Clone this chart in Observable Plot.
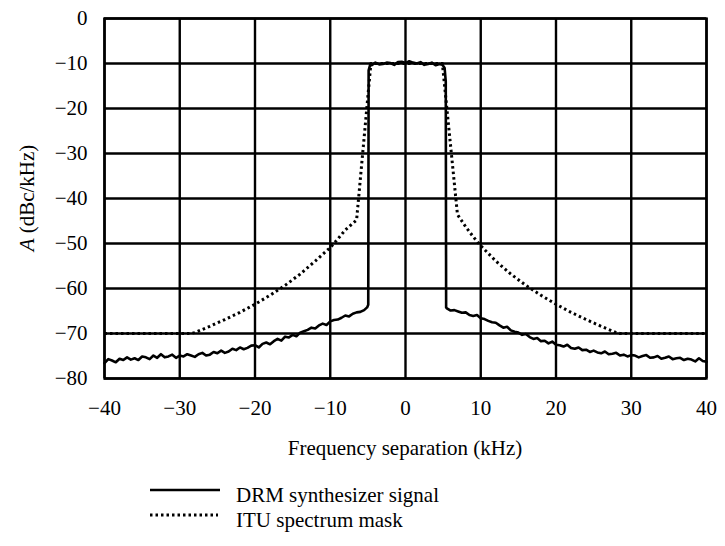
<!DOCTYPE html>
<html>
<head>
<meta charset="utf-8">
<script src="https://cdn.jsdelivr.net/npm/d3@7"></script>
<script src="https://cdn.jsdelivr.net/npm/@observablehq/plot@0.6"></script>
<style>
  html, body { margin: 0; padding: 0; background: white; }
  #wrap { position: relative; width: 725px; height: 546px; font-family: "Liberation Serif", "Times New Roman", serif; }
  #legend { position: absolute; left: 0; top: 465px; }
</style>
</head>
<body>
<div id="wrap"></div>
<script>
// Tick values
const xTicks = [-40, -30, -20, -10, 0, 10, 20, 30, 40];
const yTicks = [0, -10, -20, -30, -40, -50, -60, -70, -80];

// DRM synthesizer signal (kHz, dBc/kHz)
const sigF = [
  -40, -39.5, -39, -38.5, -38, -37.5, -37, -36.5, -36, -35.5, -35, -34.5, -34, -33.5, -33, -32.5, -32, -31.5, -31, -30.5,
  -30, -29.5, -29, -28.5, -28, -27.5, -27, -26.5, -26, -25.5, -25, -24.5, -24, -23.5, -23, -22.5, -22, -21.5, -21, -20.5,
  -20, -19.5, -19, -18.5, -18, -17.5, -17, -16.5, -16, -15.5, -15, -14.5, -14, -13.5, -13, -12.5, -12, -11.5, -11, -10.5,
  -10, -9.5, -9, -8.5, -8, -7.5, -7, -6.5, -6, -5.5, -5.1, -4.95, -4.9, -4.7,
  -4.5, -4, -3.5, -3, -2.5, -2, -1.5, -1, -0.5, 0, 0.5, 1, 1.5, 2, 2.5, 3, 3.5, 4, 4.5, 4.9, 5.2, 5.35, 5.4,
  5.5, 6, 6.5, 7, 7.5, 8, 8.5, 9, 9.5, 10, 10.5, 11, 11.5, 12, 12.5, 13, 13.5, 14, 14.5, 15, 15.5, 16, 16.5, 17, 17.5,
  18, 18.5, 19, 19.5, 20, 20.5, 21, 21.5, 22, 22.5, 23, 23.5, 24, 24.5, 25, 25.5, 26, 26.5, 27, 27.5, 28, 28.5, 29, 29.5,
  30, 30.5, 31, 31.5, 32, 32.5, 33, 33.5, 34, 34.5, 35, 35.5, 36, 36.5, 37, 37.5, 38, 38.5, 39, 39.5, 40
];
const sigA = [
  -76.6, -75.7, -76.0, -76.4, -75.6, -75.9, -75.3, -75.8, -75.5, -75.9, -75.1, -75.3, -75.7, -74.9, -75.4, -74.6, -75.3, -75.1, -74.7, -75.4,
  -74.9, -75.1, -74.6, -74.9, -75.2, -74.6, -74.3, -74.9, -74.7, -74.1, -74.4, -73.8, -74.3, -74.0, -73.4, -73.7, -73.1, -73.5, -73.2, -72.7,
  -72.6, -73.1, -72.3, -72.0, -72.4, -71.7, -71.2, -71.6, -70.7, -70.9, -70.3, -70.6, -69.8, -69.5, -69.2, -68.7, -68.9, -68.2, -67.8, -68.1,
  -67.3, -67.0, -66.9, -66.5, -66.0, -66.2, -65.6, -65.3, -65.2, -64.8, -64.2, -63.6, -11.5, -10.3,
  -10.4, -9.8, -10.2, -10.1, -9.8, -9.9, -10.3, -9.7, -9.6, -9.9, -9.5, -9.8, -10.0, -9.7, -10.3, -10.1, -9.8, -10.4, -10.1, -10.3, -11.0, -14.0, -64.2,
  -64.4, -64.9, -64.8, -65.1, -65.4, -65.3, -65.9, -66.1, -65.9, -66.6, -66.8, -67.2, -67.5, -67.6, -68.2, -68.7, -68.5, -69.3, -69.6, -69.8, -70.3, -70.1, -70.8, -71.2, -71.0,
  -71.7, -71.6, -72.2, -71.8, -72.5, -72.6, -72.9, -72.5, -73.2, -73.4, -73.1, -73.7, -73.6, -74.1, -73.8, -74.2, -74.4, -74.0, -74.6, -74.5, -74.3, -74.9, -74.7, -75.1,
  -74.8, -74.9, -75.3, -75.0, -74.8, -75.4, -75.3, -75.0, -75.6, -75.4, -75.1, -75.7, -75.5, -75.4, -75.9, -75.6, -75.8, -76.2, -75.5, -76.1, -76.3
];

// ITU spectrum mask (kHz, dBc/kHz)
const maskF = [-40, -28.5, -28, -26, -24, -22, -20, -18, -16, -14, -12, -10, -9, -8, -7, -6.5, -4.6,
               4.9, 6.9, 7, 8, 9, 10, 12, 14, 16, 18, 20, 22, 24, 26, 28, 28.5, 40];
const maskA = [-70, -70, -69.8, -68.4, -66.9, -65.3, -63.5, -61.5, -59.3, -56.8, -53.9, -50.9, -49.0, -47.0, -45.5, -44.8, -10,
               -10, -43.5, -43.8, -46.3, -48.5, -50.5, -53.9, -56.8, -59.3, -61.5, -63.5, -65.3, -66.9, -68.4, -69.8, -70, -70];

// Legend entries
const legendLabels = ["DRM synthesizer signal", "ITU spectrum mask"];

const signal = sigF.map((f, i) => ({f, a: sigA[i]}));
const mask = maskF.map((f, i) => ({f, a: maskA[i]}));

const fmt = d => d < 0 ? "\u2212" + Math.abs(d) : String(d);

const chart = Plot.plot({
  width: 725,
  height: 465,
  marginLeft: 104,
  marginRight: 19,
  marginTop: 18,
  marginBottom: 87,
  style: {fontFamily: "'Liberation Serif', 'Times New Roman', serif", fontSize: "21px", background: "white", color: "black", overflow: "visible"},
  x: {domain: [-40, 40]},
  y: {domain: [-80, 0]},
  marks: [
    Plot.gridX(xTicks, {stroke: "black", strokeOpacity: 1, strokeWidth: 2.4}),
    Plot.gridY(yTicks, {stroke: "black", strokeOpacity: 1, strokeWidth: 2.4}),
    Plot.line(mask, {x: "f", y: "a", stroke: "black", strokeWidth: 3, strokeDasharray: "2.5 3", strokeLinecap: "butt"}),
    Plot.line(signal, {x: "f", y: "a", stroke: "black", strokeWidth: 2.6, strokeLinejoin: "round"}),
    Plot.frame({stroke: "black", strokeWidth: 2.4}),
    Plot.axisX(xTicks, {tickSize: 0, tickPadding: 22, tickFormat: fmt, label: null, fill: "black"}),
    Plot.axisY(yTicks, {tickSize: 0, tickPadding: 17, tickFormat: fmt, label: null, fill: "black"})
  ]
});

const wrap = document.getElementById("wrap");
wrap.appendChild(chart);

const svg = d3.select(chart);
// x axis title
svg.append("text")
  .attr("x", 405).attr("y", 455)
  .attr("text-anchor", "middle")
  .attr("fill", "black")
  .style("font-size", "21px")
  .text("Frequency separation (kHz)");
// y axis title
const yl = svg.append("text")
  .attr("transform", "translate(34,198) rotate(-90)")
  .attr("text-anchor", "middle")
  .attr("fill", "black")
  .style("font-size", "21px");
yl.append("tspan").style("font-style", "italic").text("A");
yl.append("tspan").text(" (dBc/kHz)");

// Legend below the chart
const leg = d3.select(wrap).append("svg")
  .attr("id", "legend")
  .attr("width", 725).attr("height", 81)
  .style("font-family", "'Liberation Serif', 'Times New Roman', serif")
  .style("font-size", "21px");
const rows = [
  {label: legendLabels[0], dash: null, ly: 25, ty: 37, x2: 220},
  {label: legendLabels[1], dash: "2.5 3", ly: 50, ty: 62, x2: 218}
];
rows.forEach(r => {
  const ln = leg.append("line").attr("x1", 150).attr("x2", r.x2).attr("y1", r.ly).attr("y2", r.ly)
    .attr("stroke", "black").attr("stroke-width", r.dash ? 3 : 2.6);
  if (r.dash) ln.attr("stroke-dasharray", r.dash);
  leg.append("text").attr("x", 236).attr("y", r.ty).attr("fill", "black").text(r.label);
});
</script>
</body>
</html>
